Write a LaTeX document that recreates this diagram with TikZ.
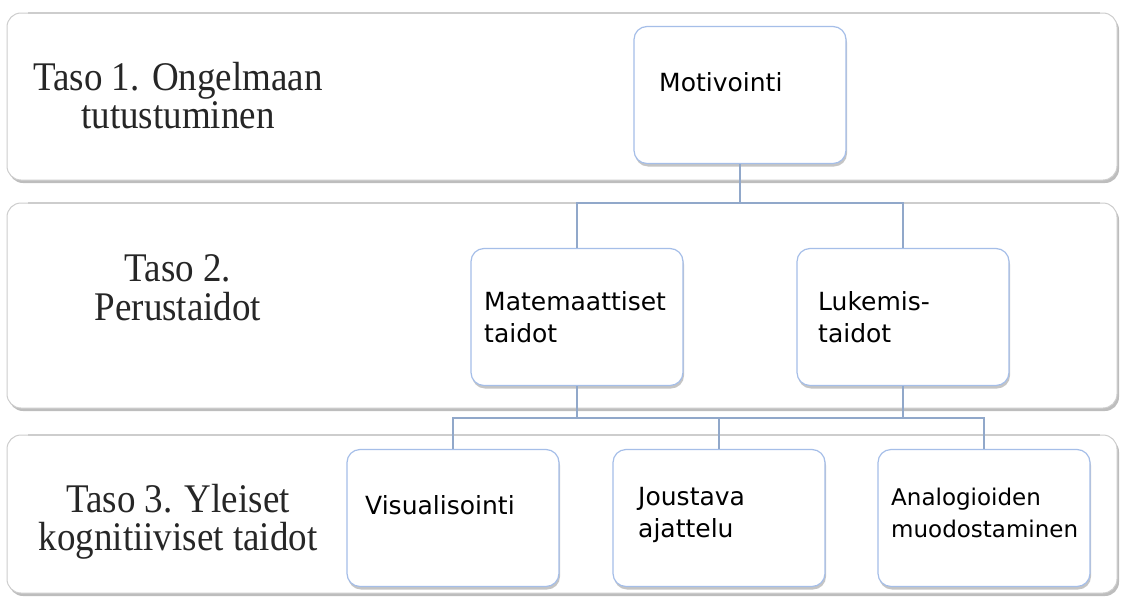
\documentclass[tikz,border=0pt]{standalone}
\usepackage{fontspec}
\setmainfont{Liberation Serif}
\newfontfamily\boxfont{DejaVu Sans}
\usetikzlibrary{shadows}
\definecolor{conn}{RGB}{145,168,202}
\definecolor{boxline}{RGB}{165,190,232}
\definecolor{bandline}{RGB}{205,205,205}
\definecolor{shadowc}{RGB}{135,135,135}
\newcommand{\tall}[1]{\scalebox{1}[1.1]{#1}}
\tikzset{
  band/.style={draw=bandline, line width=1pt, rounded corners=14pt, fill=white},
  bandshadow/.style={fill=shadowc, rounded corners=14pt, opacity=0.55},
  sepline/.style={draw=bandline, line width=1.5pt},
  skill/.style={draw=boxline, line width=1.2pt, rounded corners=13pt, fill=white,
    minimum width=212pt, minimum height=137pt, inner sep=0pt,
    drop shadow={shadow xshift=1pt, shadow yshift=-3pt, fill=gray, opacity=0.45}},
  link/.style={draw=conn, line width=1.5pt},
  level/.style={font=\fontsize{37}{38}\selectfont, anchor=base, inner sep=0pt, text=black!85},
  lbl/.style={font=\boxfont\fontsize{25}{32}\selectfont, anchor=base west, inner sep=0pt},
  lblsmall/.style={font=\boxfont\fontsize{23}{30}\selectfont, anchor=base west, inner sep=0pt},
}
\begin{document}
\begin{tikzpicture}[x=1pt, y=-1pt]
\useasboundingbox (0,0) rectangle (1121,597);
% bands
\fill[bandshadow] (9,16) rectangle (1119,183);
\draw[band] (7,13) rectangle (1117,180);
\draw[sepline] (28,13) -- (1100,13);
\fill[bandshadow] (9,206) rectangle (1119,411);
\draw[band] (7,203) rectangle (1117,408);
\draw[sepline] (28,203) -- (1100,203);
\fill[bandshadow] (9,438) rectangle (1119,596);
\draw[band] (7,435) rectangle (1117,593);
\draw[sepline] (28,435) -- (1100,435);
% level labels
\node[level] (l1a) at (178,90) {\tall{Taso 1. Ongelmaan}};
\node[level] (l1b) at (178,128) {\tall{tutustuminen}};
\node[level] (l2a) at (178,281) {\tall{Taso 2.}};
\node[level] (l2b) at (178,320) {\tall{Perustaidot}};
\node[level] (l3a) at (178,512) {\tall{Taso 3. Yleiset}};
\node[level] (l3b) at (178,550) {\tall{kognitiiviset taidot}};
% boxes
\node[skill] (mot) at (740,95) {};
\node[skill] (mat) at (577,317) {};
\node[skill] (luk) at (903,317) {};
\node[skill] (vis) at (453,518) {};
\node[skill] (jou) at (719,518) {};
\node[skill] (ana) at (984,518) {};
% texts
\node[lbl] (tmot) at (659,91) {Motivointi};
\node[lbl] (tmat1) at (484,310) {Matemaattiset};
\node[lbl] (tmat2) at (484,342) {taidot};
\node[lbl] (tluk1) at (818,310) {Lukemis-};
\node[lbl] (tluk2) at (818,342) {taidot};
\node[lbl] (tvis) at (365,514) {Visualisointi};
\node[lbl] (tjou1) at (638,505) {Joustava};
\node[lbl] (tjou2) at (638,537) {ajattelu};
\node[lblsmall] (tana1) at (891,505) {Analogioiden};
\node[lblsmall] (tana2) at (891,537) {muodostaminen};
% connectors
\coordinate (top) at (740,203);
\coordinate (bus) at (700,418);
\draw[link] (mot.south) -- (top) -| (mat.north);
\draw[link] (top) -| (luk.north);
\draw[link] (mat.south) -- (mat.south |- bus) -| (vis.north);
\draw[link] (mat.south |- bus) -| (jou.north);
\draw[link] (mat.south |- bus) -- (luk.south |- bus);
\draw[link] (luk.south) -- (luk.south |- bus) -| (ana.north);
\end{tikzpicture}
\end{document}
